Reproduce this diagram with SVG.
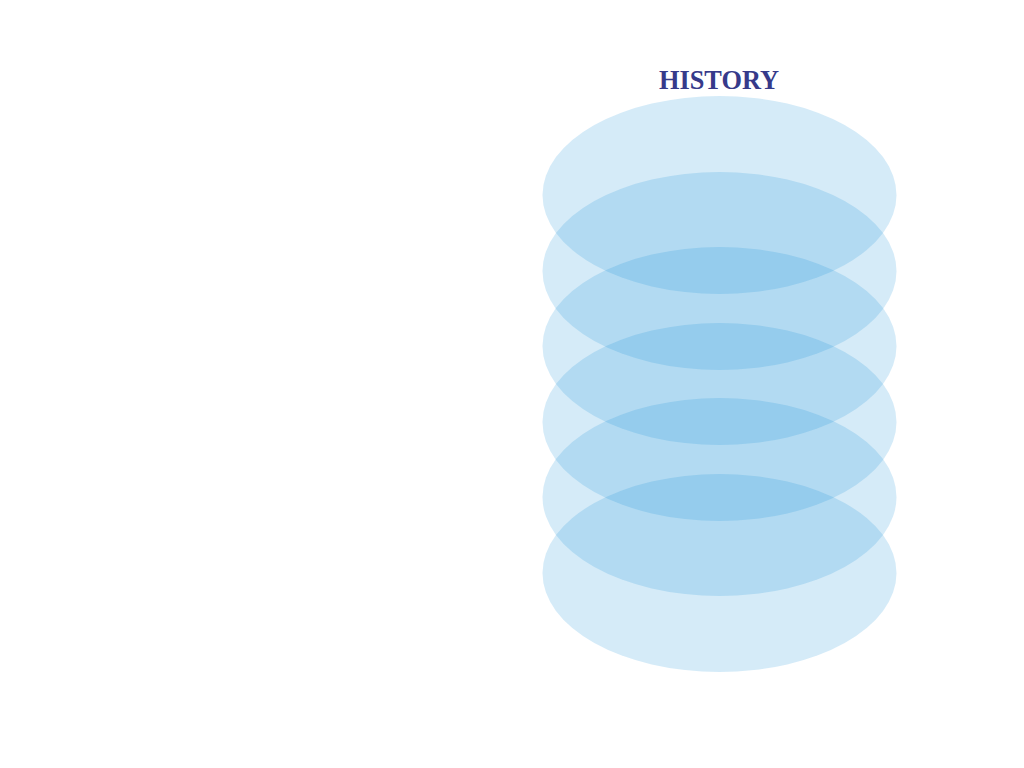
<svg xmlns="http://www.w3.org/2000/svg" width="1024" height="768" viewBox="0 0 1024 768">
<style>
.layer{fill:#0889d6;fill-opacity:0.17}
.title{font-family:"Liberation Serif",serif;font-size:27px;font-weight:bold;fill:#363a8a;text-anchor:middle}
</style>
<rect width="1024" height="768" fill="#ffffff"/>
<g id="title"><text class="title" x="719" y="89" textLength="120" lengthAdjust="spacingAndGlyphs">HISTORY</text></g>
<g id="layer1"><ellipse class="layer" cx="719.5" cy="195" rx="177" ry="99"/></g>
<g id="layer2"><ellipse class="layer" cx="719.5" cy="271" rx="177" ry="99"/></g>
<g id="layer3"><ellipse class="layer" cx="719.5" cy="346" rx="177" ry="99"/></g>
<g id="layer4"><ellipse class="layer" cx="719.5" cy="422" rx="177" ry="99"/></g>
<g id="layer5"><ellipse class="layer" cx="719.5" cy="497" rx="177" ry="99"/></g>
<g id="layer6"><ellipse class="layer" cx="719.5" cy="573" rx="177" ry="99"/></g>
<g id="connectors"></g>
</svg>
